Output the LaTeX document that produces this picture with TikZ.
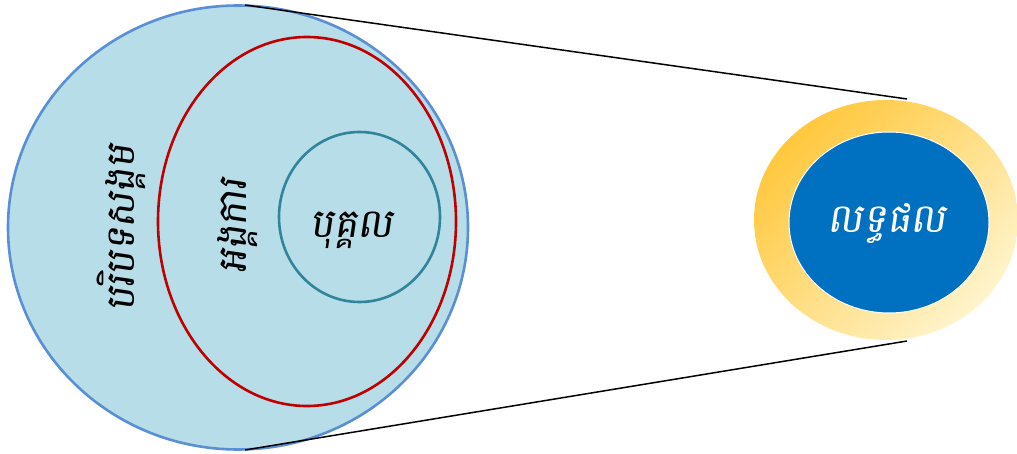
\documentclass[tikz,border=0pt]{standalone}
\usepackage{fontspec}
\newfontfamily\khmer[Script=Khmer,FakeSlant=0.15]{Battambang}
\definecolor{lblue}{HTML}{B7DDE8}
\definecolor{outerblue}{HTML}{5B8FD5}
\definecolor{redring}{HTML}{C00000}
\definecolor{tealring}{HTML}{31849B}
\definecolor{dblue}{HTML}{0070C0}
\definecolor{gold}{HTML}{FFC83D}
\definecolor{pale}{HTML}{FFF4CC}
\begin{document}
\begin{tikzpicture}[x=1pt,y=-1pt,
  lbl/.style={font=\khmer\fontsize{40}{46}\selectfont, inner sep=0pt},
  ring/.style={line width=2.6pt}]
\useasboundingbox (0,0) rectangle (1017,454);
% left group
\draw[ring, outerblue, fill=lblue] (238,227.5) ellipse [x radius=230, y radius=222];
\draw[ring, redring] (307,221.5) ellipse [x radius=149, y radius=184.5];
\draw[ring, tealring, fill=lblue] (359.5,217) ellipse [x radius=80.5, y radius=85];
\node[lbl, rotate=90] (ctx) at (121,228) {បរិបទសង្គម};
\node[lbl, rotate=90] (org) at (238,226) {អង្គការ};
\node[lbl] (ind) at (352,230) {បុគ្គល};
% right group
\begin{scope}
\clip (0,0) rectangle (1017,454);
\shade[left color=gold, right color=pale, shading angle=45] (886,220) ellipse [x radius=132, y radius=120];
\end{scope}
\draw[line width=1pt, white, fill=dblue] (889,222.5) ellipse [x radius=100, y radius=90.5];
\node[lbl, white] (res) at (887,224) {លទ្ធផល};
% connector lines
\coordinate (t1) at (245,5);
\coordinate (t2) at (907,99);
\coordinate (b1) at (245,450);
\coordinate (b2) at (907,341);
\draw[line width=1.5pt] (t1) -- (t2);
\draw[line width=1.5pt] (b1) -- (b2);
\end{tikzpicture}
\end{document}
